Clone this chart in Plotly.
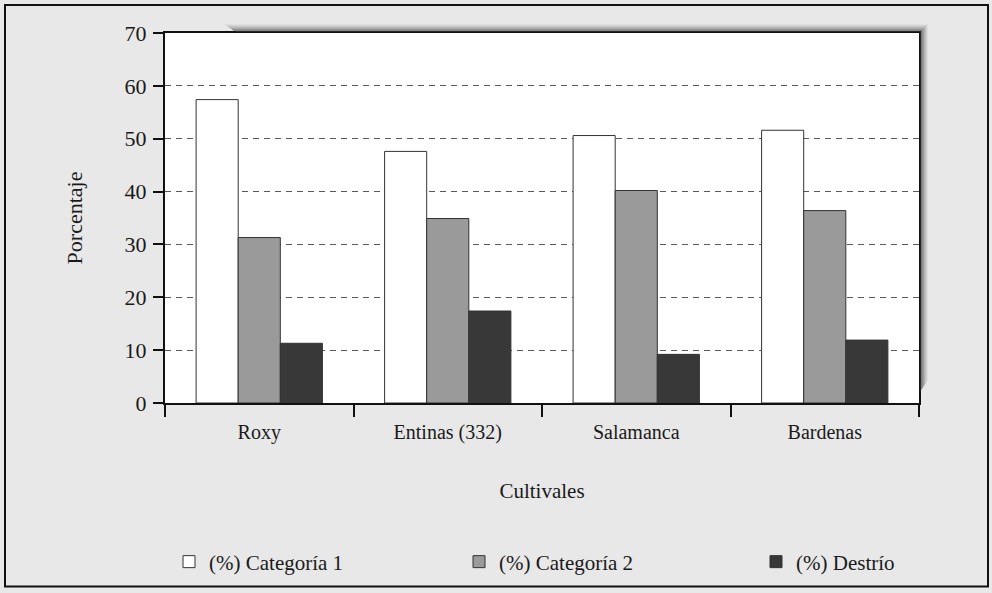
import plotly.graph_objects as go

categories = ["Roxy", "Entinas (332)", "Salamanca", "Bardenas"]
cat1 = [57.4, 47.6, 50.6, 51.6]
cat2 = [31.3, 34.9, 40.2, 36.4]
destrio = [11.3, 17.4, 9.2, 11.9]
series_names = ["(%) Categoría 1", "(%) Categoría 2", "(%) Destrío"]
y_ticks = [0, 10, 20, 30, 40, 50, 60, 70]

W, H = 992, 593
L, R, T, B = 165, 73, 33, 189
PW, PH = W - L - R, H - T - B

def px_x(x):
    return (x - L) / PW

def px_y(y):
    return (H - B - y) / PH

FONT = "Liberation Serif, Times New Roman, serif"
TXT = "#1a1a1a"

fig = go.Figure()
colors = ["#ffffff", "#9a9a9a", "#383838"]
legend_ids = ["legend", "legend2", "legend3"]
for name, vals, c, lg in zip(series_names, [cat1, cat2, destrio], colors, legend_ids):
    fig.add_trace(go.Bar(
        x=categories, y=vals, name=name, legend=lg,
        marker=dict(color=c, line=dict(color="#333333", width=1)),
    ))

shapes = []
# blurred shadow along top edge and right edge of plot frame
ops = [0.65, 0.55, 0.45, 0.35, 0.26, 0.18, 0.11, 0.05]
for i, op in enumerate(ops):
    d = i + 1.5
    shapes.append(dict(type="line", xref="paper", yref="paper",
                       x0=px_x(225 + 10 - i * 1.5), x1=px_x(919 + d),
                       y0=px_y(33 - d), y1=px_y(33 - d),
                       line=dict(color=f"rgba(50,50,50,{op})", width=1.2)))
    shapes.append(dict(type="line", xref="paper", yref="paper",
                       x0=px_x(919 + d), x1=px_x(919 + d),
                       y0=px_y(33 - d), y1=px_y(392 - i * 1.5),
                       line=dict(color=f"rgba(50,50,50,{op})", width=1.2)))
# outer border
shapes.append(dict(type="rect", xref="paper", yref="paper",
                   x0=px_x(5), x1=px_x(988), y0=px_y(588), y1=px_y(5),
                   line=dict(color="#111111", width=2), fillcolor="rgba(0,0,0,0)", layer="below"))

def legend_at(xpx):
    return dict(orientation="h", x=px_x(xpx), xanchor="left", y=px_y(562), yanchor="middle",
                bgcolor="rgba(0,0,0,0)", font=dict(size=21, family=FONT, color=TXT))

fig.update_layout(
    width=W, height=H,
    margin=dict(l=L, r=R, t=T, b=B, pad=0),
    paper_bgcolor="#e8e8e8",
    plot_bgcolor="#ffffff",
    barmode="group",
    bargap=0.33,
    bargroupgap=0,
    font=dict(family=FONT, size=20, color=TXT),
    showlegend=True,
    legend=legend_at(169),
    legend2=legend_at(459),
    legend3=legend_at(756),
    shapes=shapes,
    xaxis=dict(
        showline=True, linecolor="#111111", linewidth=2, mirror=True,
        ticks="outside", tickson="boundaries", ticklen=12, tickwidth=2, tickcolor="#111111",
        ticklabelstandoff=10,
        tickfont=dict(size=20, family=FONT, color=TXT),
        title=dict(text="Cultivales", font=dict(size=21, family=FONT, color=TXT), standoff=40),
        showgrid=False,
    ),
    yaxis=dict(
        range=[0, 70], tickvals=y_ticks,
        showline=True, linecolor="#111111", linewidth=2, mirror=True,
        ticks="outside", ticklen=10, tickwidth=2, tickcolor="#111111",
        ticklabelstandoff=2,
        tickfont=dict(size=22, family=FONT, color=TXT),
        showgrid=True, gridcolor="#5a5a5a", gridwidth=1, griddash="6px,5px",
        zeroline=False,
        title=dict(text="Porcentaje", font=dict(size=22, family=FONT, color=TXT), standoff=36),
    ),
)

fig.write_html("out.html", config={"displayModeBar": False},
               post_script="document.body.style.margin='0px';document.body.style.overflow='hidden';")
